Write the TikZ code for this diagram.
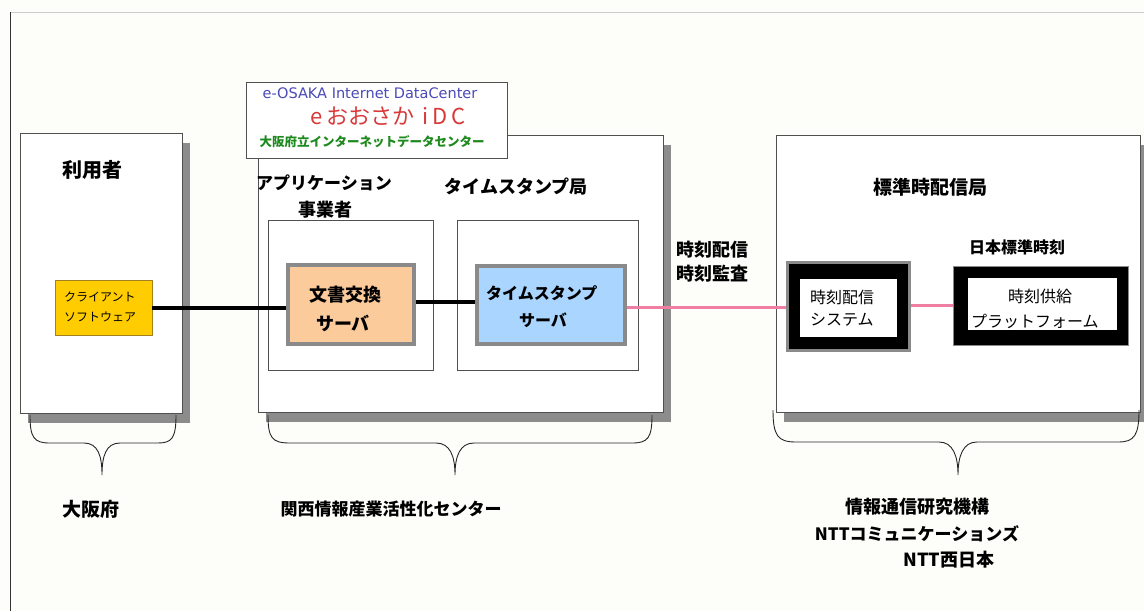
\documentclass[tikz,border=0pt]{standalone}
\usepackage{fontspec}
\setmainfont{Noto Sans CJK JP}
\newfontfamily\logofont{DejaVu Sans}
\usetikzlibrary{shadows}
\definecolor{bgcol}{HTML}{FDFDFA}
\definecolor{frameline}{HTML}{505050}
\definecolor{shadowgray}{HTML}{8C8C8C}
\definecolor{clientfill}{HTML}{FFCC00}
\definecolor{clientline}{HTML}{A08020}
\definecolor{docfill}{HTML}{FCCB9C}
\definecolor{tsfill}{HTML}{A9D5FF}
\definecolor{boxgray}{HTML}{8A8A8A}
\definecolor{pinkline}{HTML}{EE7FA2}
\definecolor{logoblue}{HTML}{4A4AB8}
\definecolor{logored}{HTML}{D83A3A}
\definecolor{logogreen}{HTML}{1E8A1E}
\newcommand{\fsz}[1]{\fontsize{#1}{#1}\selectfont}
\begin{document}
\begin{tikzpicture}[x=1pt,y=-1pt,
  panel/.style={draw=frameline, line width=0.9pt, fill=white, inner sep=0pt,
    drop shadow={shadow xshift=8pt, shadow yshift=-10pt, fill=shadowgray, opacity=1}},
  subpanel/.style={draw=frameline, line width=0.8pt, fill=white, inner sep=0pt},
  srvbox/.style={draw=boxgray, line width=4pt, inner sep=0pt},
  blackbox/.style={fill=black, draw=boxgray, inner sep=0pt},
  whitebox/.style={fill=white, inner sep=0pt},
  head/.style={font=\bfseries\fsz{18}, inner sep=0pt},
  small/.style={font=\fsz{16}, inner sep=0pt},
  tiny/.style={font=\fsz{12}, inner sep=0pt},
  bottomlabel/.style={font=\bfseries\fsz{18}, inner sep=0pt},
  wire/.style={line width=4pt, black},
  pink/.style={line width=3pt, pinkline},
  bracepath/.style={line width=0.9pt, black!85}
]
\fill[bgcol] (0,0) rectangle (1144,611);
\useasboundingbox (0,0) rectangle (1144,611);
% outer frame
\draw[black!20, line width=0.8pt] (10,12) -- (1144,12);
\draw[black!80, line width=1pt] (10,12) -- (10,611);

% panels
\node[panel, minimum width=162pt, minimum height=280pt] (user) at (101,273) {};
\node[panel, minimum width=405pt, minimum height=277pt] (center) at (460.5,273.5) {};
\node[panel, minimum width=364pt, minimum height=277pt] (right) at (958,273.5) {};

% logo
\node[draw=frameline, line width=0.9pt, fill=white, minimum width=261pt, minimum height=76pt, inner sep=0pt] (logo) at (376.5,120) {};
\node[font=\logofont\fsz{14.5}, text=logoblue, inner sep=0pt] (logo1) at (370,93) {e-OSAKA Internet DataCenter};
\node[font=\fsz{22}, text=logored, inner sep=0pt] (logo2) at (388,116) {e\,おおさか\, i\,D\,C};
\node[font=\bfseries\fsz{12.5}, text=logogreen, inner sep=0pt] (logo3) at (372,142) {大阪府立インターネットデータセンター};

% inner sub panels
\node[subpanel, minimum width=165pt, minimum height=150pt] (app) at (350.5,295) {};
\node[subpanel, minimum width=181pt, minimum height=150pt] (tsa) at (547.5,295) {};

% titles
\node[head, font=\bfseries\fsz{20}] (usertitle) at (92,170) {利用者};
\node[head, font=\bfseries\fsz{17}] (apptitle1) at (324,183) {アプリケーション};
\node[head] (apptitle2) at (325,210) {事業者};
\node[head] (tsatitle) at (516,187) {タイムスタンプ局};
\node[head, font=\bfseries\fsz{19}] (rtitle) at (930,187) {標準時配信局};
\node[head, font=\bfseries\fsz{16}] (jst) at (1017,247) {日本標準時刻};
\node[head, align=left] (timelbl) at (712,262) {時刻配信\\[6pt]時刻監査};

% client
\node[fill=clientfill, draw=clientline, line width=0.8pt, minimum width=97pt, minimum height=55pt, inner sep=0pt] (client) at (103.5,307.5) {};
\node[tiny, align=left, anchor=west] (clienttxt) at (64,307) {クライアント\\[8pt]ソフトウェア};

% servers
\node[srvbox, fill=docfill, minimum width=126pt, minimum height=79pt] (docsrv) at (351,304.5) {};
\node[head] (doctxt1) at (345,295) {文書交換};
\node[head] (doctxt2) at (343,323) {サーバ};
\node[srvbox, fill=tsfill, minimum width=148pt, minimum height=78pt] (tssrv) at (551,305) {};
\node[head, font=\bfseries\fsz{16}, anchor=west] (tstxt1) at (486,293) {タイムスタンプ};
\node[head, font=\bfseries\fsz{16}] (tstxt2) at (543,320) {サーバ};

% timing system
\node[blackbox, line width=3pt, minimum width=122pt, minimum height=88pt] (tdist) at (848,306) {};
\node[whitebox, minimum width=97pt, minimum height=58pt] (tdistin) at (848,307.5) {};
\node[small, align=left, anchor=west] (tdisttxt) at (810,308) {時刻配信\\[6pt]システム};

% platform
\node[blackbox, line width=1.5pt, minimum width=175pt, minimum height=79pt] (plat) at (1041,306) {};
\node[whitebox, minimum width=149pt, minimum height=52pt] (platin) at (1042,304) {};
\node[small] (plattxt1) at (1040,296) {時刻供給};
\node[small, anchor=west] (plattxt2) at (971,321) {プラットフォーム};

% connectors
\draw[wire] (client.east) -- (client.east -| docsrv.west);
\draw[wire] (docsrv.east |- 0,302) -- (tssrv.west |- 0,302);
\draw[pink] (tssrv.east |- 0,307) -- (tdist.west |- 0,307);
\draw[pink] (tdist.east |- 0,305) -- (plat.west |- 0,305);

% braces
\coordinate (b1l) at (30,415);
\coordinate (b1t) at (102,475);
\coordinate (b1r) at (176,415);
\draw[bracepath] (b1l) .. controls (30,438) and (34,443) .. (50,443) -- (84,443)
  .. controls (98,443) and (102,456) .. (b1t)
  .. controls (102,456) and (106,443) .. (120,443) -- (158,443)
  .. controls (172,443) and (176,438) .. (b1r);
\coordinate (b2l) at (268,415);
\coordinate (b2t) at (455,475);
\coordinate (b2r) at (652,415);
\draw[bracepath] (b2l) .. controls (268,438) and (272,443) .. (290,443) -- (436,443)
  .. controls (450,443) and (455,456) .. (b2t)
  .. controls (455,456) and (460,443) .. (474,443) -- (632,443)
  .. controls (648,443) and (652,438) .. (b2r);
\coordinate (b3l) at (773,410);
\coordinate (b3t) at (958,475);
\coordinate (b3r) at (1139,410);
\draw[bracepath] (b3l) .. controls (773,436) and (778,442) .. (796,442) -- (939,442)
  .. controls (953,442) and (958,456) .. (b3t)
  .. controls (958,456) and (963,442) .. (977,442) -- (1118,442)
  .. controls (1134,442) and (1139,436) .. (b3r);

% bottom labels
\node[bottomlabel, font=\bfseries\fsz{19}] (osaka) at (91,509) {大阪府};
\node[bottomlabel, font=\bfseries\fsz{17}] (kiis) at (391,509) {関西情報産業活性化センター};
\node[bottomlabel] (nict) at (917,507) {情報通信研究機構};
\node[bottomlabel, font=\bfseries\fsz{17}] (nttcom) at (917,534) {NTTコミュニケーションズ};
\node[bottomlabel] (nttw) at (949,560) {NTT西日本};
\end{tikzpicture}
\end{document}
